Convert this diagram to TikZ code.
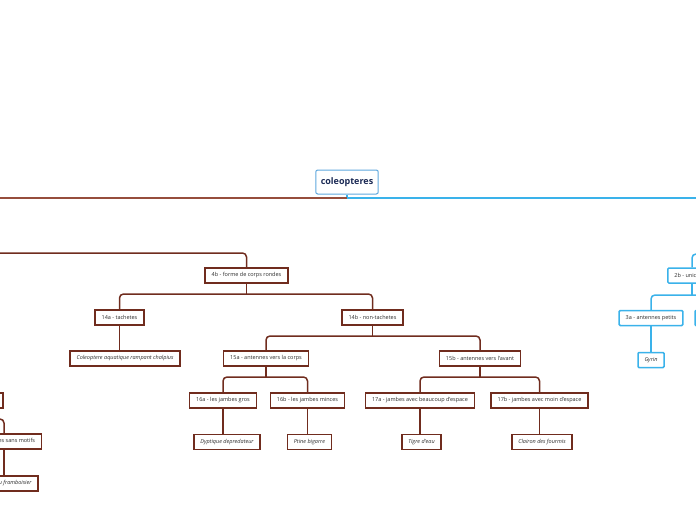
\documentclass[tikz,border=0pt]{standalone}
\usepackage{fontspec}
\setmainfont{Open Sans}
\usetikzlibrary{positioning}

\begin{document}
\begin{tikzpicture}[x=1pt,y=-1pt,font=\fontsize{5.5}{6.5}\selectfont,
  box/.style={draw=bark, line width=1.5pt, fill=white, text=ink, inner xsep=6.5pt, inner ysep=0pt, minimum height=15pt},
  leaf/.style={box, font=\fontsize{5.5}{6.5}\selectfont\itshape},
  skybox/.style={box, draw=sky, rounded corners=1pt},
  skyleaf/.style={skybox, font=\fontsize{5.5}{6.5}\selectfont\itshape},
  rootbox/.style={draw=rootline, line width=1pt, rounded corners=2pt, fill=white, text=navy, font=\fontsize{9}{10}\selectfont\bfseries, inner xsep=5pt, minimum height=24pt},
  brlink/.style={draw=bark, line width=1.5pt, rounded corners=4pt},
  sklink/.style={draw=sky, line width=1.5pt, rounded corners=4pt}]
  \definecolor{ink}{RGB}{45,45,45}
  \definecolor{bark}{RGB}{112,44,30}
  \definecolor{barkline}{RGB}{150,78,60}
  \definecolor{sky}{RGB}{58,178,234}
  \definecolor{rootline}{RGB}{95,168,222}
  \definecolor{navy}{RGB}{27,42,85}

  \useasboundingbox (0,0) rectangle (696,520);
  \clip (0,0) rectangle (696,520);

  \node[rootbox] (root) at (347,182) {coleopteres};
  \coordinate (westend) at (-10,198);
  \coordinate (eastend) at (706,198);
  \draw[sklink] (root.south) -- (root.south |- 0,198);
  \draw[brlink, draw=barkline, line width=2pt] (westend) -- (root.south |- 0,198);
  \draw[sklink, line width=2pt] (root.south |- 0,198) -- (eastend);

  \node[box] (n4b) at (246.5,275.5) {4b - forme de corps rondes};
  \coordinate (in4b) at (-10,253);
  \draw[brlink] (in4b) -| (n4b.north);

  \node[box] (n14a) at (119.5,317.5) {14a - tachetes};
  \node[box] (n14b) at (372.5,317.5) {14b - non-tachetes};
  \draw[brlink] (n4b.south) -- (n4b.south |- 0,294);
  \draw[brlink] (n14a.north) |- (n14b.north |- 0,294) -- (n14b.north);

  \node[box] (n15a) at (266,358.5) {15a - antennes vers la corps};
  \node[box] (n15b) at (480,358.5) {15b - antennes vers l'avant};
  \draw[brlink] (n14b.south) -- (n14b.south |- 0,336);
  \draw[brlink] (n15a.north) |- (n15b.north |- 0,336) -- (n15b.north);

  \node[box] (n16a) at (223,400.5) {16a - les jambes gros};
  \node[box] (n16b) at (307.5,400.5) {16b - les jambes minces};
  \draw[brlink] (n15a.south) -- (n15a.south |- 0,377);
  \draw[brlink] (n16a.north) |- (n16b.north |- 0,377) -- (n16b.north);

  \node[box] (n17a) at (420,400.5) {17a - jambes avec beaucoup d'espace};
  \node[box] (n17b) at (539.5,400.5) {17b - jambes avec moin d'espace};
  \draw[brlink] (n15b.south) -- (n15b.south |- 0,377);
  \draw[brlink] (n17a.north) |- (n17b.north |- 0,377) -- (n17b.north);

  \foreach \leaf/\parent/\x/\y/\txt in {
    lch/n14a/125/358.5/Coleoptere aquatique rampant chalpius,
    ldy/n16a/227/442/Dyptique depredateur,
    lpt/n16b/309.5/442/Ptine bigarre,
    ltg/n17a/421.5/442/Tigre d'eau,
    lcl/n17b/542/442/Clairon des fourmis
  } {
    \node[leaf] (\leaf) at (\x,\y) {\txt};
    \draw[brlink] (\parent.south) -- (\parent.south |- \leaf.north);
  }

  \node[box, minimum width=62pt] (n13a) at (-28,400.5) {};
  \node[box] (n13b) at (4,441.5) {13b - elytres sans motifs};
  \node[leaf] (lby) at (5,483.5) {Byture du framboisier};
  \coordinate (in13) at (-60,419);
  \draw[brlink] (n13a.south) -- (n13a.south |- 0,419);
  \draw[brlink] (in13) -| (n13b.north);
  \draw[brlink] (n13b.south) -- (n13b.south |- lby.north);

  \node[skybox] (n2b) at (692,275.5) {2b - unicolore};
  \coordinate (in2b) at (720,254);
  \draw[sklink] (in2b) -| (n2b.north);

  \node[skybox] (n3a) at (651,318) {3a - antennes petits};
  \node[skybox, minimum width=66pt] (n3b) at (728,318) {};
  \draw[sklink] (n2b.south) -- (n2b.south |- 0,295);
  \draw[sklink] (n3a.north) |- (n3b.north |- 0,295) -- (n3b.north);

  \node[skyleaf] (lgy) at (651,360) {Gyrin};
  \draw[sklink] (n3a.south) -- (n3a.south |- lgy.north);
\end{tikzpicture}
\end{document}
